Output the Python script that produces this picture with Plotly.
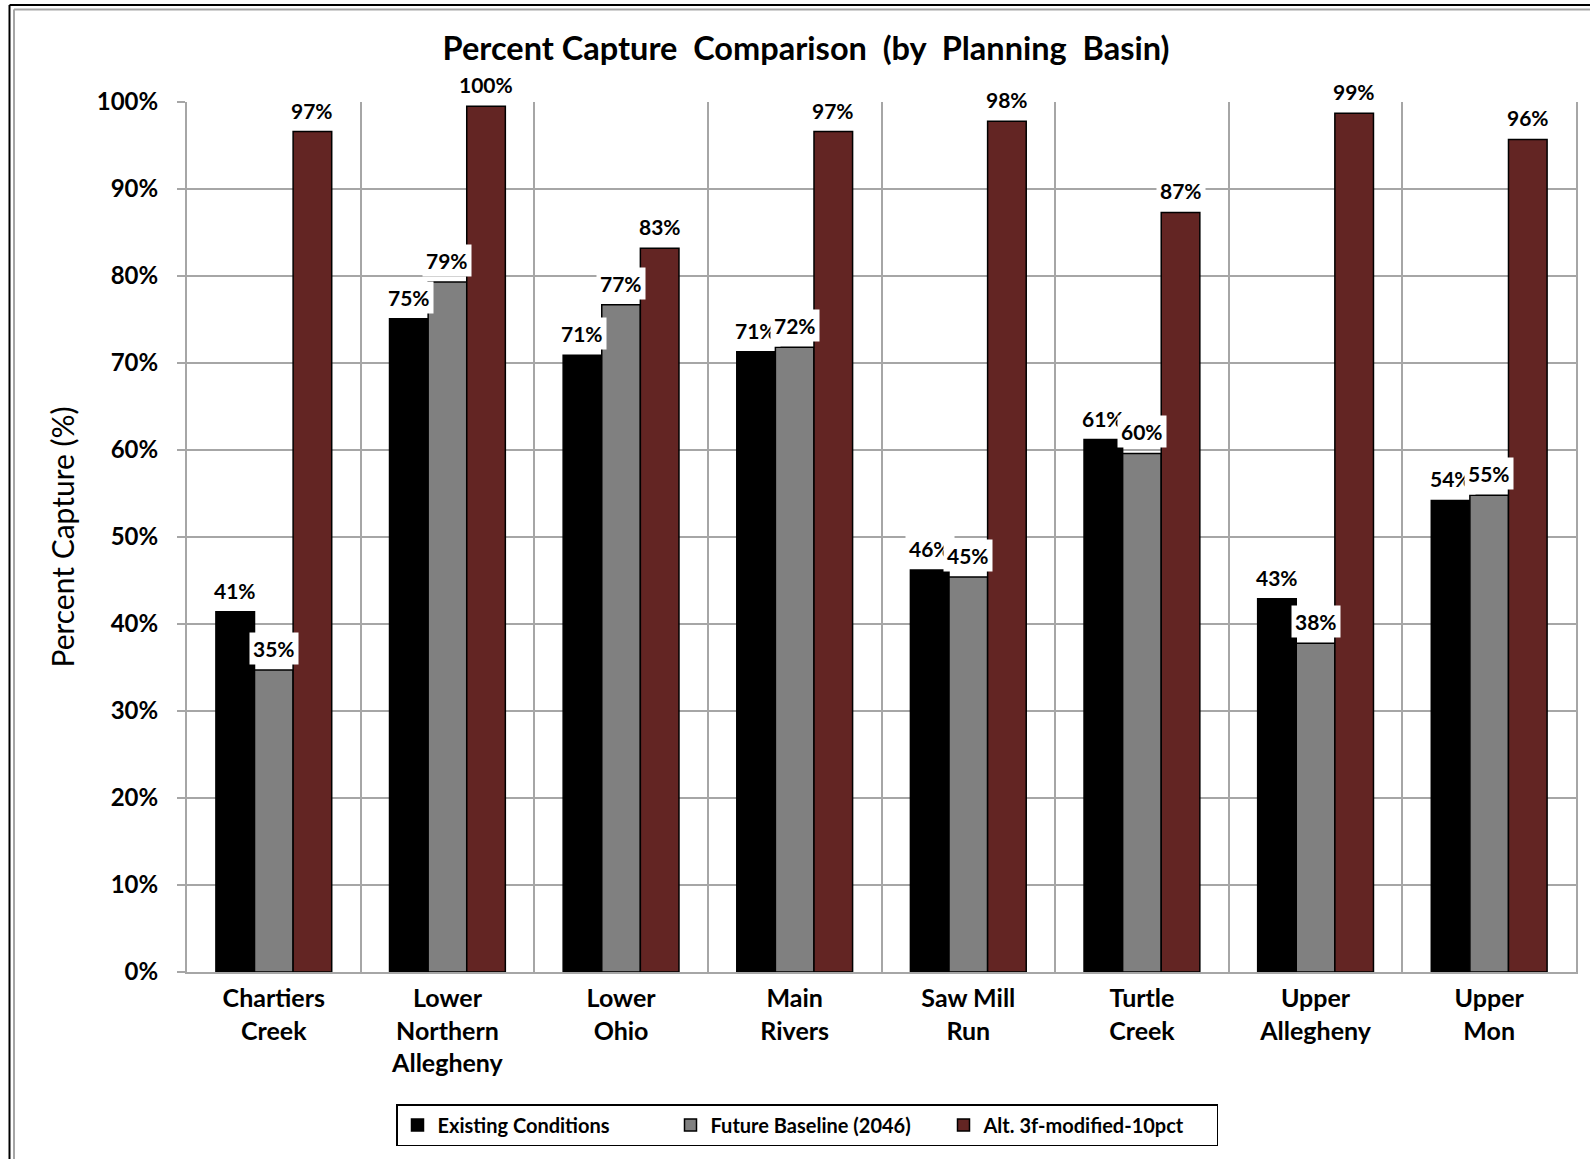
import plotly.graph_objects as go

# Planning basins (x categories) and percent capture for each scenario
basins = [
    "Chartiers<br>Creek",
    "Lower<br>Northern<br>Allegheny",
    "Lower<br>Ohio",
    "Main<br>Rivers",
    "Saw Mill<br>Run",
    "Turtle<br>Creek",
    "Upper<br>Allegheny",
    "Upper<br>Mon",
]
existing = [0.414, 0.751, 0.709, 0.713, 0.462, 0.612, 0.429, 0.542]
future_2046 = [0.347, 0.793, 0.767, 0.718, 0.454, 0.596, 0.378, 0.548]
alt_3f = [0.966, 0.995, 0.832, 0.966, 0.978, 0.873, 0.987, 0.957]

series_names = ["Existing Conditions", "Future Baseline (2046)", "Alt. 3f-modified-10pct"]
series_values = [existing, future_2046, alt_3f]
series_colors = ["#000000", "#808080", "#632523"]

y_ticks = [i / 10 for i in range(11)]

FONT = "Lato"
BARGAP = 0.333
W, H = 1590, 1159
M_L, M_R, M_T, M_B = 187, 14, 102, 187

fig = go.Figure()
for name, vals, color in zip(series_names, series_values, series_colors):
    fig.add_trace(go.Bar(
        name=name,
        x=basins,
        y=vals,
        marker=dict(color=color, line=dict(color="#000000", width=1.5)),
    ))

# Value labels on white boxes above each bar (x is the category serial number
# shifted to the centre of the bar within its group)
bar_w = (1 - BARGAP) / len(series_values)
annotations = []
for i in range(len(basins)):
    for j, vals in enumerate(series_values):
        annotations.append(dict(
            x=i + (j - (len(series_values) - 1) / 2) * bar_w,
            y=vals[i],
            xref="x", yref="y",
            text=f"{vals[i]:.0%}",
            showarrow=False,
            yanchor="bottom",
            yshift=5,
            bgcolor="#ffffff",
            borderpad=3,
            font=dict(family=FONT, size=21, color="#000000", weight="bold"),
        ))

# Double frame around the chart (black outer, grey inner)
pw = W - M_L - M_R
ph = H - M_T - M_B


def px_x(v):
    return (v - M_L) / pw


def px_y(v):
    return (H - M_B - v) / ph


shapes = [
    dict(type="line", xref="paper", yref="paper", x0=px_x(9.5), x1=px_x(9.5),
         y0=px_y(5), y1=px_y(H), line=dict(color="#000000", width=2)),
    dict(type="line", xref="paper", yref="paper", x0=px_x(9.5), x1=px_x(W),
         y0=px_y(5), y1=px_y(5), line=dict(color="#000000", width=2)),
    dict(type="line", xref="paper", yref="paper", x0=px_x(14), x1=px_x(14),
         y0=px_y(9.5), y1=px_y(H), line=dict(color="#a6a6a6", width=2)),
    dict(type="line", xref="paper", yref="paper", x0=px_x(14), x1=px_x(W),
         y0=px_y(9.5), y1=px_y(9.5), line=dict(color="#a6a6a6", width=2)),
]

fig.update_layout(
    width=W, height=H,
    margin=dict(l=M_L, r=M_R, t=M_T, b=M_B),
    paper_bgcolor="#ffffff",
    plot_bgcolor="#ffffff",
    barmode="group",
    bargap=BARGAP,
    bargroupgap=0,
    title=dict(
        text="Percent Capture\u00a0 Comparison\u00a0 (by\u00a0 Planning\u00a0 Basin)",
        x=806 / W, xanchor="center",
        y=1 - 49 / H, yanchor="middle",
        font=dict(family=FONT, size=32.5, color="#000000", weight="bold"),
    ),
    xaxis=dict(
        type="category",
        categoryorder="array",
        categoryarray=basins,
        range=[-0.5, len(basins) - 0.5],
        tickson="boundaries",
        showgrid=True,
        gridcolor="#a6a6a6",
        gridwidth=2,
        showline=True,
        linecolor="#a6a6a6",
        linewidth=2,
        ticks="",
        ticklabelstandoff=3,
        tickfont=dict(family=FONT, size=25, color="#000000", weight="bold"),
        fixedrange=True,
    ),
    yaxis=dict(
        range=[0, 1],
        tickvals=y_ticks,
        tickformat=".0%",
        showgrid=True,
        gridcolor="#a6a6a6",
        gridwidth=2,
        showline=True,
        mirror=True,
        linecolor="#a6a6a6",
        linewidth=2,
        zeroline=False,
        ticks="outside",
        ticklen=8,
        tickwidth=2,
        tickcolor="#a6a6a6",
        ticklabelstandoff=14,
        tickfont=dict(family=FONT, size=24, color="#000000", weight="bold"),
        title=dict(
            text="Percent Capture (%)",
            standoff=13,
            font=dict(family=FONT, size=30, color="#000000"),
        ),
        fixedrange=True,
    ),
    legend=dict(
        orientation="h",
        x=px_x(807), xanchor="center",
        y=px_y(1104), yanchor="top",
        bordercolor="#000000",
        borderwidth=1.5,
        bgcolor="#ffffff",
        entrywidth=228,
        font=dict(family=FONT, size=20, color="#000000", weight="bold"),
        itemclick=False,
        itemdoubleclick=False,
    ),
    annotations=annotations,
    shapes=shapes,
    showlegend=True,
)

fig.write_html("out.html")
